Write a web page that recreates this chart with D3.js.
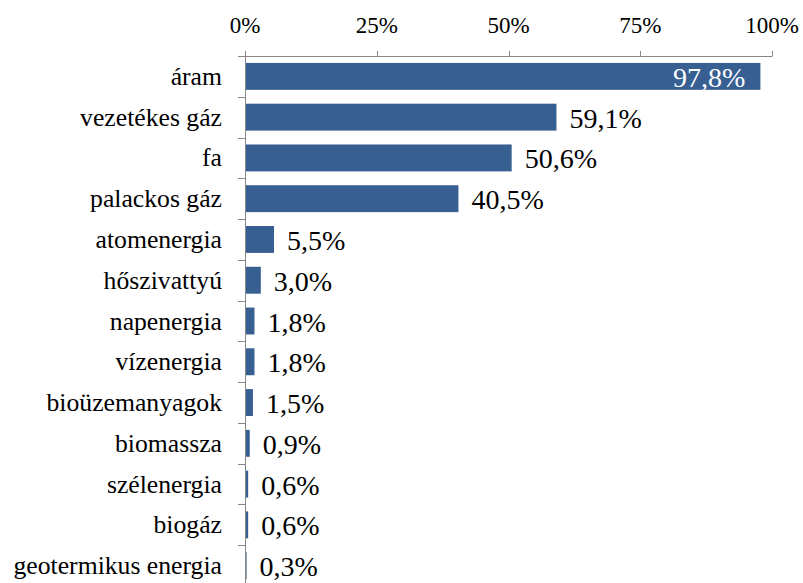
<!DOCTYPE html>
<html>
<head>
    <meta charset="UTF-8">
    <script src="https://cdn.jsdelivr.net/npm/d3@7"></script>
</head>
<body style="margin:0">
    <svg id="chart" width="803" height="583"></svg>
    <script>
        // Data
        var categories = ["áram", "vezetékes gáz", "fa", "palackos gáz", "atomenergia",
            "hőszivattyú", "napenergia", "vízenergia", "bioüzemanyagok", "biomassza",
            "szélenergia", "biogáz", "geotermikus energia"];
        var values = [97.8, 59.1, 50.6, 40.5, 5.5, 3.0, 1.8, 1.8, 1.5, 0.9, 0.6, 0.6, 0.3];
        var tickValues = [0, 25, 50, 75, 100];

        var svg = d3.select("#chart");

        var x = d3.scaleLinear().domain([0, 100]).range([245, 772]);
        var y = d3.scaleBand().domain(categories).range([56, 586])
            .paddingInner(0.34).paddingOuter(0.17);

        // top axis tick labels, drawn by hand so nothing sets a sans font
        var axisColor = "#868686";
        svg.append("line")
            .attr("x1", x(0)).attr("x2", x(100))
            .attr("y1", 56.5).attr("y2", 56.5)
            .attr("stroke", axisColor);
        svg.selectAll(".xtick")
            .data(tickValues)
            .enter()
            .append("line")
            .attr("class", "xtick")
            .attr("x1", function (d) { return Math.round(x(d)) + 0.5; })
            .attr("x2", function (d) { return Math.round(x(d)) + 0.5; })
            .attr("y1", 51).attr("y2", 56.5)
            .attr("stroke", axisColor);
        svg.selectAll(".xlab")
            .data(tickValues)
            .enter()
            .append("text")
            .attr("class", "xlab")
            .attr("x", function (d) { return x(d); })
            .attr("y", 33)
            .attr("text-anchor", "middle")
            .attr("font-family", "serif")
            .attr("font-size", "23px")
            .text(function (d) { return d + "%"; });

        // left axis line with ticks between the categories
        svg.append("line")
            .attr("x1", 245.5).attr("x2", 245.5)
            .attr("y1", 56).attr("y2", 586)
            .attr("stroke", axisColor);
        var bounds = d3.range(categories.length + 1).map(function (i) {
            return Math.round(y.range()[0] + i * y.step()) + 0.5;
        });
        svg.selectAll(".sep")
            .data(bounds)
            .enter()
            .append("line")
            .attr("class", "sep")
            .attr("x1", 238).attr("x2", 245.5)
            .attr("y1", function (d) { return d; })
            .attr("y2", function (d) { return d; })
            .attr("stroke", axisColor);

        // category labels
        svg.selectAll(".cat")
            .data(categories)
            .enter()
            .append("text")
            .attr("class", "cat")
            .attr("x", 222)
            .attr("y", function (d) { return y(d) + y.bandwidth() / 2 + 8.5; })
            .attr("text-anchor", "end")
            .attr("font-family", "Times New Roman")
            .attr("font-size", "25.7px")
            .text(function (d) { return d; });

        // bars
        svg.selectAll(".bar")
            .data(values)
            .enter()
            .append("rect")
            .attr("class", "bar")
            .attr("x", 246)
            .attr("y", function (d, i) { return y(categories[i]); })
            .attr("width", function (d) { return x(d) - 246; })
            .attr("height", y.bandwidth())
            .attr("fill", "#375f91");

        // value labels
        var fmt = function (d) { return d.toFixed(1).replace(".", ",") + "%"; };
        svg.selectAll(".val")
            .data(values)
            .enter()
            .append("text")
            .attr("class", "val")
            .attr("x", function (d) { return d > 90 ? x(d) - 15 : x(d) + 13; })
            .attr("y", function (d, i) { return y(categories[i]) + y.bandwidth() / 2 + 10.5; })
            .attr("text-anchor", function (d) { return d > 90 ? "end" : "start"; })
            .attr("font-family", "Liberation Serif")
            .attr("font-size", "28px")
            .attr("fill", function (d) { return d > 90 ? "#fff" : "#000"; })
            .text(fmt);
    </script>
</body>
</html>
